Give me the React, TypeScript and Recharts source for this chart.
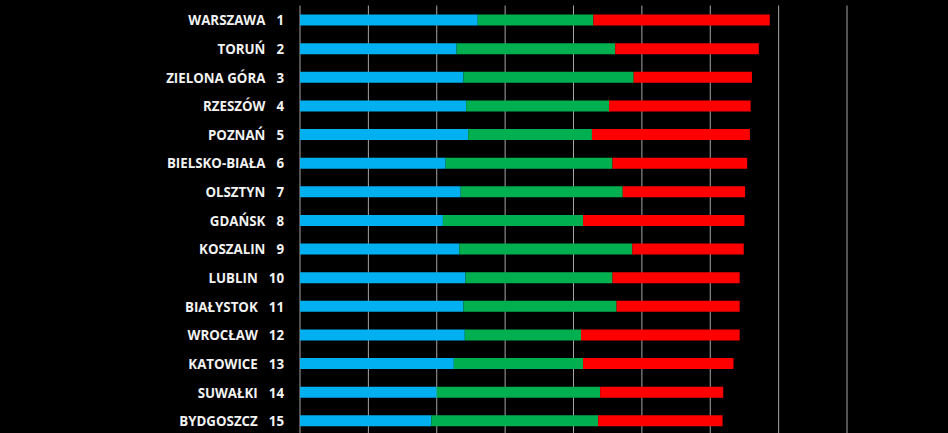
import React from 'react';
import { BarChart, Bar, XAxis, YAxis, CartesianGrid } from 'recharts';

const cities = ['WARSZAWA', 'TORUŃ', 'ZIELONA GÓRA', 'RZESZÓW', 'POZNAŃ', 'BIELSKO-BIAŁA', 'OLSZTYN', 'GDAŃSK', 'KOSZALIN', 'LUBLIN', 'BIAŁYSTOK', 'WROCŁAW', 'KATOWICE', 'SUWAŁKI', 'BYDGOSZCZ'];
const ranks = [1, 2, 3, 4, 5, 6, 7, 8, 9, 10, 11, 12, 13, 14, 15];
const blueValues = [26.0, 22.9, 23.9, 24.3, 24.6, 21.3, 23.5, 20.9, 23.3, 24.2, 23.9, 24.1, 22.5, 20.0, 19.2];
const greenValues = [16.9, 23.2, 24.9, 20.9, 18.1, 24.4, 23.7, 20.5, 25.3, 21.5, 22.4, 17.0, 18.9, 23.9, 24.4];
const redValues = [25.8, 21.0, 17.3, 20.7, 23.1, 19.7, 17.9, 23.6, 16.3, 18.6, 18.0, 23.2, 22.0, 18.0, 18.2];
const xTicks = [0, 10, 20, 30, 40, 50, 60, 70, 80];

const data = cities.map((c, i) => ({
  name: c,
  rank: ranks[i],
  blue: blueValues[i],
  green: greenValues[i],
  red: redValues[i],
}));

const CityTick = (props: any) => {
  const { y, payload } = props;
  const row = data[payload.index] || data.find((d) => d.name === payload.value);
  return (
    <text
      x={284}
      y={y}
      dy={5.5}
      textAnchor="end"
      fill="#F2F2F2"
      fontFamily="'Open Sans', sans-serif"
      fontWeight={700}
      fontSize={13.3}
    >
      <tspan>{payload.value}</tspan>
      <tspan dx={11}>{row ? row.rank : ''}</tspan>
    </text>
  );
};

export default function App() {
  return (
    <div style={{ position: 'absolute', left: 0, top: 0, width: 948, height: 433, background: '#000', overflow: 'hidden' }}>
      <BarChart
        width={948}
        height={435}
        data={data}
        layout="vertical"
        margin={{ top: 5.5, right: 101, bottom: 0, left: 0 }}
        barSize={11}
      >
        <CartesianGrid horizontal={false} vertical={true} stroke="#A6A6A6" strokeWidth={1} />
        <XAxis type="number" domain={[0, 80]} ticks={xTicks} hide />
        <YAxis
          type="category"
          dataKey="name"
          width={300}
          axisLine={false}
          tickLine={false}
          interval={0}
          tick={<CityTick />}
        />
        <Bar dataKey="blue" stackId="a" fill="#00B0F0" isAnimationActive={false} />
        <Bar dataKey="green" stackId="a" fill="#00B050" isAnimationActive={false} />
        <Bar dataKey="red" stackId="a" fill="#FF0000" isAnimationActive={false} />
      </BarChart>
    </div>
  );
}
